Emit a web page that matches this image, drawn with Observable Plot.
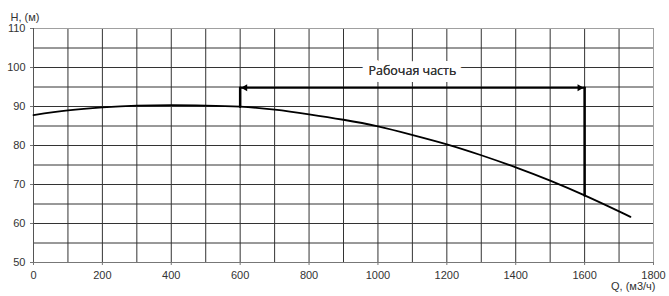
<!DOCTYPE html>
<html>
<head>
<meta charset="utf-8">
<script src="https://cdn.jsdelivr.net/npm/d3@7"></script>
<script src="https://cdn.jsdelivr.net/npm/@observablehq/plot@0.6"></script>
<style>
  html, body { margin: 0; padding: 0; background: #fff; }
  #chart svg { display: block; }
</style>
</head>
<body>
<div id="chart"></div>
<script>
// Pump curve H(Q)
const qValues = [0, 100, 200, 300, 400, 500, 600, 700, 800, 900, 1000, 1100, 1200, 1300, 1400, 1500, 1600, 1700, 1733];
const hValues = [87.8, 89.0, 89.75, 90.2, 90.35, 90.25, 89.95, 89.2, 88.0, 86.6, 84.9, 82.7, 80.3, 77.5, 74.4, 71.0, 67.2, 63.1, 61.7];

// Working range
const workQ = [600, 1600];
const workArrowH = 94.8;
const workLabel = "Рабочая часть";
const workLabelPos = [1100, 99];

// Ticks
const xTickValues = [0, 200, 400, 600, 800, 1000, 1200, 1400, 1600, 1800];
const yTickValues = [50, 60, 70, 80, 90, 100, 110];
const xGridValues = [100, 200, 300, 400, 500, 600, 700, 800, 900, 1000, 1100, 1200, 1300, 1400, 1500, 1600, 1700];
const yGridValues = [55, 60, 65, 70, 75, 80, 85, 90, 95, 100, 105];
const yAxisTitle = "H, (м)";
const xAxisTitle = "Q, (м3/ч)";

const curve = qValues.map((q, i) => ({q, h: hValues[i]}));
const hAt = q => hValues[qValues.indexOf(q)];

const verticals = [
  {q: workQ[0], h: hAt(workQ[0]), s: "L"},
  {q: workQ[0], h: workArrowH, s: "L"},
  {q: workQ[1], h: workArrowH, s: "R"},
  {q: workQ[1], h: hAt(workQ[1]), s: "R"}
];
const horiz = [{q: workQ[0], h: workArrowH}, {q: workQ[1], h: workArrowH}];

const font = "Liberation Sans, Arial, sans-serif";

const chart = Plot.plot({
  width: 669,
  height: 296,
  marginLeft: 33,
  marginRight: 16,
  marginTop: 28,
  marginBottom: 34,
  style: {fontFamily: font, fontSize: "11px", color: "#333", background: "#fff"},
  x: {domain: [0, 1800]},
  y: {domain: [50, 110]},
  marks: [
    Plot.gridX(xGridValues, {stroke: "#333", strokeOpacity: 1, strokeWidth: 1}),
    Plot.gridY(yGridValues, {stroke: "#333", strokeOpacity: 1, strokeWidth: 1}),
    Plot.ruleY([110], {stroke: "#a0a0a0"}),
    Plot.ruleX([1800], {stroke: "#a0a0a0"}),
    Plot.ruleY([50], {stroke: "#777"}),
    Plot.ruleX([0], {stroke: "#555"}),
    Plot.axisX({ticks: xTickValues, tickFormat: d => String(d), tickSize: 3, tickPadding: 6, label: null, stroke: "#777"}),
    Plot.axisY({ticks: yTickValues, tickFormat: d => String(d), tickSize: 3, tickPadding: 5, label: null, stroke: "#777"}),
    Plot.line(curve, {x: "q", y: "h", curve: "natural", stroke: "#000", strokeWidth: 1.8}),
    Plot.line(verticals, {x: "q", y: "h", z: "s", stroke: "#000", strokeWidth: 2.5}),
    Plot.line(horiz, {x: "q", y: "h", stroke: "#000", strokeWidth: 2}),
    Plot.dot([horiz[0]], {x: "q", y: "h", symbol: "triangle", r: 2.6, rotate: -90, dx: 5, fill: "#000", stroke: "none"}),
    Plot.dot([horiz[1]], {x: "q", y: "h", symbol: "triangle", r: 2.6, rotate: 90, dx: -5, fill: "#000", stroke: "none"}),
    Plot.text([workLabel], {x: workLabelPos[0], y: workLabelPos[1], text: d => d, fill: "#333", fontSize: 12.5, fontFamily: "Open Sans, sans-serif", stroke: "#fff", strokeWidth: 14, strokeLinejoin: "round"}),
    Plot.text([workLabel], {x: workLabelPos[0], y: workLabelPos[1], text: d => d, fill: "#333", fontSize: 12.5, fontFamily: "Open Sans, sans-serif"}),
    Plot.text([yAxisTitle], {frameAnchor: "top-left", dx: -23, dy: -15, textAnchor: "start", fill: "#333", fontSize: 11}),
    Plot.text([xAxisTitle], {frameAnchor: "bottom-right", dx: 2, dy: 27, textAnchor: "end", fill: "#333", fontSize: 11})
  ]
});
document.getElementById("chart").appendChild(chart);
</script>
</body>
</html>
